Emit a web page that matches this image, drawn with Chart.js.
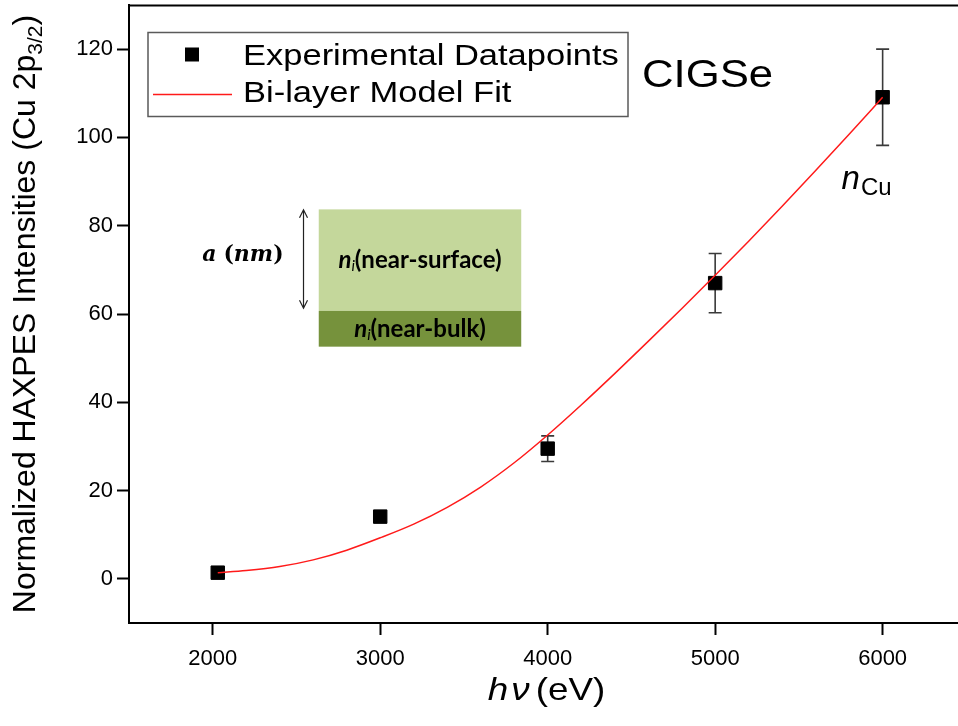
<!DOCTYPE html>
<html>
<head>
<meta charset="utf-8">
<script src="https://cdn.jsdelivr.net/npm/chart.js@4.4.0/dist/chart.umd.min.js"></script>
<style>
  html, body { margin: 0; padding: 0; background: #fff; overflow: hidden; }
  #wrap { width: 958px; height: 726px; }
</style>
</head>
<body>
<div id="wrap"><canvas id="c" width="958" height="726"></canvas></div>
<script>
// Measured Cu 2p3/2 HAXPES intensities vs. photon energy
const photonEnergy = [2030, 3000, 4000, 5000, 6000];
const intensity    = [1.4, 14.1, 29.5, 67.0, 109.1];
const intensityErr = [0, 0, 2.9, 6.7, 10.9];

// Bi-layer model fit curve
const fitEnergy    = [2030, 2200, 2400, 2600, 2800, 3000, 3200, 3400, 3600, 3800, 4000,
                      4200, 4400, 4600, 4800, 5000, 5200, 5400, 5600, 5800, 6000];
const fitIntensity = [1.4, 1.9, 2.8, 4.3, 6.5, 9.3, 12.4, 16.2, 20.8, 26.3, 32.6,
                      39.4, 46.5, 53.8, 61.2, 68.8, 76.5, 84.4, 92.5, 100.7, 109.1];

// Axis ticks
const xTickValues = [2000, 3000, 4000, 5000, 6000];
const yTickValues = [0, 20, 40, 60, 80, 100, 120];

const seriesLabels = ['Experimental Datapoints', 'Bi-layer Model Fit'];

const SANS = '"Liberation Sans", Arial, sans-serif';
const SX = 1.15; // horizontal stretch used for the annotation texts

function stretchedText(ctx, text, x, y, sx) {
  ctx.save();
  ctx.translate(x, y);
  ctx.scale(sx, 1);
  ctx.fillText(text, 0, 0);
  const w = ctx.measureText(text).width * sx;
  ctx.restore();
  return w;
}

// Vertical error bars, drawn underneath the square markers
const errorBars = {
  id: 'errorBars',
  beforeDatasetsDraw(chart) {
    const { ctx, scales: { x, y } } = chart;
    ctx.save();
    ctx.strokeStyle = '#3a3a3a';
    ctx.lineWidth = 1.6;
    photonEnergy.forEach((e, i) => {
      const d = intensityErr[i];
      if (!d) return;
      const px = x.getPixelForValue(e);
      const top = y.getPixelForValue(intensity[i] + d);
      const bot = y.getPixelForValue(intensity[i] - d);
      const cap = 6.5;
      ctx.beginPath();
      ctx.moveTo(px, top); ctx.lineTo(px, bot);
      ctx.moveTo(px - cap, top); ctx.lineTo(px + cap, top);
      ctx.moveTo(px - cap, bot); ctx.lineTo(px + cap, bot);
      ctx.stroke();
    });
    ctx.restore();
  }
};

// Frame, legend box, titles and the layer sketch
const decorations = {
  id: 'decorations',
  afterDraw(chart) {
    const { ctx, chartArea: ca, scales: { x, y } } = chart;
    ctx.save();

    // top frame line
    ctx.strokeStyle = '#000';
    ctx.lineWidth = 2;
    ctx.beginPath();
    ctx.moveTo(ca.left - 1, ca.top + 0.5);
    ctx.lineTo(ca.right, ca.top + 0.5);
    ctx.stroke();

    // legend box
    const lx = ca.left + 19, ly = ca.top + 27.5, lw = 480, lh = 84;
    ctx.fillStyle = '#fff';
    ctx.fillRect(lx, ly, lw, lh);
    ctx.strokeStyle = '#5a5a5a';
    ctx.lineWidth = 1.5;
    ctx.strokeRect(lx, ly, lw, lh);
    ctx.fillStyle = '#000';
    ctx.fillRect(lx + 37, ly + 15, 14, 14);
    ctx.strokeStyle = '#ff1a1a';
    ctx.lineWidth = 1.5;
    ctx.beginPath();
    ctx.moveTo(lx + 5, ly + 62); ctx.lineTo(lx + 84, ly + 62);
    ctx.stroke();
    ctx.fillStyle = '#000';
    ctx.font = '30px ' + SANS;
    ctx.textBaseline = 'alphabetic';
    ctx.textAlign = 'left';
    stretchedText(ctx, chart.data.datasets[1].label, lx + 95, ly + 32.5, SX);
    stretchedText(ctx, chart.data.datasets[0].label, lx + 95, ly + 69, SX);

    // sample label
    ctx.font = '38px ' + SANS;
    stretchedText(ctx, 'CIGSe', ca.left + 513, ca.top + 81.5, SX);

    // n_Cu label next to the highest point
    const nx = x.getPixelForValue(5755), ny = y.getPixelForValue(88.3);
    ctx.font = 'italic 33px ' + SANS;
    const wn = ctx.measureText('n').width;
    ctx.fillText('n', nx, ny);
    ctx.font = '24px ' + SANS;
    ctx.fillText('Cu', nx + wn + 1, ny + 6);

    // layer sketch: near-surface / near-bulk
    const rx0 = x.getPixelForValue(2633), rx1 = x.getPixelForValue(3842);
    const ry0 = y.getPixelForValue(83.7), ry1 = y.getPixelForValue(60.7), ry2 = y.getPixelForValue(52.6);
    ctx.fillStyle = '#c4d79b';
    ctx.fillRect(rx0, ry0, rx1 - rx0, ry1 - ry0);
    ctx.fillStyle = '#76923c';
    ctx.fillRect(rx0, ry1, rx1 - rx0, ry2 - ry1);

    function layerText(label, cx, cy) {
      ctx.fillStyle = '#000';
      ctx.textBaseline = 'middle';
      ctx.font = 'bold italic 24px Lato, ' + SANS;
      const w1 = ctx.measureText('n').width;
      ctx.font = 'italic 15px Lato, ' + SANS;
      const w2 = ctx.measureText('i').width;
      ctx.font = 'bold 24px Lato, ' + SANS;
      const w3 = ctx.measureText(label).width;
      let sx = cx - (w1 + w2 + w3) / 2;
      ctx.font = 'bold italic 24px Lato, ' + SANS;
      ctx.fillText('n', sx, cy);
      ctx.font = 'italic 15px Lato, ' + SANS;
      ctx.fillText('i', sx + w1, cy + 6);
      ctx.font = 'bold 24px Lato, ' + SANS;
      ctx.fillText(label, sx + w1 + w2, cy);
    }
    layerText('(near-surface)', (rx0 + rx1) / 2, (ry0 + ry1) / 2);
    layerText('(near-bulk)', (rx0 + rx1) / 2, (ry1 + ry2) / 2);

    // thickness arrow
    const ax = x.getPixelForValue(2542);
    const a0 = y.getPixelForValue(83.6), a1 = y.getPixelForValue(61.3);
    ctx.strokeStyle = '#222';
    ctx.lineWidth = 1.2;
    ctx.beginPath();
    ctx.moveTo(ax, a0); ctx.lineTo(ax, a1);
    ctx.moveTo(ax - 4, a0 + 8); ctx.lineTo(ax, a0); ctx.lineTo(ax + 4, a0 + 8);
    ctx.moveTo(ax - 4, a1 - 8); ctx.lineTo(ax, a1); ctx.lineTo(ax + 4, a1 - 8);
    ctx.stroke();

    // a (nm)
    ctx.textBaseline = 'alphabetic';
    ctx.textAlign = 'left';
    const tx = x.getPixelForValue(2180), ty = y.getPixelForValue(72);
    ctx.font = 'bold italic 22px "DejaVu Serif", serif';
    const wa = ctx.measureText('a').width;
    ctx.font = 'bold 22px "DejaVu Serif", serif';
    const wp = ctx.measureText('(').width;
    ctx.font = 'bold italic 22px "DejaVu Serif", serif';
    const wnm = ctx.measureText('nm').width;
    const total = wa + 7 + wp + wnm + wp;
    let px = tx - total / 2;
    ctx.font = 'bold italic 22px "DejaVu Serif", serif';
    ctx.fillText('a', px, ty); px += wa + 7;
    ctx.font = 'bold 22px "DejaVu Serif", serif';
    ctx.fillText('(', px, ty); px += wp;
    ctx.font = 'bold italic 22px "DejaVu Serif", serif';
    ctx.fillText('nm', px, ty); px += wnm;
    ctx.font = 'bold 22px "DejaVu Serif", serif';
    ctx.fillText(')', px, ty);

    // y-axis title with subscript
    ctx.save();
    ctx.translate(35, (ca.top + ca.bottom) / 2);
    ctx.rotate(-Math.PI / 2);
    const mainT = 'Normalized HAXPES Intensities (Cu 2p';
    ctx.font = '32px ' + SANS;
    const m1 = ctx.measureText(mainT).width;
    const m3 = ctx.measureText(')').width;
    ctx.font = '21px ' + SANS;
    const m2 = ctx.measureText('3/2').width;
    let s = -(m1 + m2 + m3) / 2;
    ctx.fillStyle = '#000';
    ctx.font = '32px ' + SANS;
    ctx.fillText(mainT, s, 0);
    ctx.font = '21px ' + SANS;
    ctx.fillText('3/2', s + m1, 7);
    ctx.font = '32px ' + SANS;
    ctx.fillText(')', s + m1 + m2, 0);
    ctx.restore();

    // x-axis title: h nu (eV)
    ctx.font = 'italic 32px ' + SANS;
    const wh = ctx.measureText('h').width * SX;
    const wnu = ctx.measureText('\u03BD').width * SX;
    ctx.font = '32px ' + SANS;
    const wev = ctx.measureText('(eV)').width * SX;
    const gap = 6;
    const cx = (ca.left + ca.right) / 2 + 3;
    let xx = cx - (wh + 3 + wnu + gap + wev) / 2;
    const by = 700;
    ctx.font = 'italic 32px ' + SANS;
    stretchedText(ctx, 'h', xx, by, SX); xx += wh + 3;
    stretchedText(ctx, '\u03BD', xx, by, SX); xx += wnu + gap;
    ctx.font = '32px ' + SANS;
    stretchedText(ctx, '(eV)', xx, by, SX);

    ctx.restore();
  }
};

const ctx = document.getElementById('c').getContext('2d');
new Chart(ctx, {
  type: 'scatter',
  data: {
    datasets: [
      {
        type: 'line',
        label: seriesLabels[1],
        data: fitEnergy.map((e, i) => ({ x: e, y: fitIntensity[i] })),
        borderColor: '#ff1a1a',
        borderWidth: 1.5,
        pointRadius: 0,
        fill: false,
        cubicInterpolationMode: 'monotone',
        order: 0
      },
      {
        type: 'scatter',
        label: seriesLabels[0],
        data: photonEnergy.map((e, i) => ({ x: e, y: intensity[i] })),
        pointStyle: 'rect',
        pointRadius: 9.5,
        backgroundColor: '#000',
        borderColor: '#000',
        borderWidth: 1,
        order: 1
      }
    ]
  },
  options: {
    responsive: false,
    animation: false,
    devicePixelRatio: 1,
    layout: { autoPadding: false, padding: { top: 5, right: 0, left: 0, bottom: 0 } },
    plugins: {
      legend: { display: false },
      tooltip: { enabled: false },
      title: { display: false }
    },
    scales: {
      x: {
        type: 'linear',
        min: 1500,
        max: 6450,
        afterBuildTicks: s => { s.ticks = xTickValues.map(v => ({ value: v })); },
        afterFit: s => { s.height = 103; s.paddingLeft = 0; s.paddingRight = 0; },
        ticks: { color: '#000', font: { family: SANS, size: 22 }, padding: 11, autoSkip: false, maxRotation: 0,
                 callback: v => String(v) },
        grid: { display: true, drawOnChartArea: false, drawTicks: true, tickLength: 12, tickWidth: 2, tickColor: '#000' },
        border: { display: true, color: '#000', width: 2 }
      },
      y: {
        type: 'linear',
        min: -10,
        max: 130,
        afterBuildTicks: s => { s.ticks = yTickValues.map(v => ({ value: v })); },
        afterFit: s => { s.width = 129; s.paddingTop = 0; s.paddingBottom = 0; },
        ticks: { color: '#000', font: { family: SANS, size: 22 }, padding: 4, autoSkip: false,
                 callback: v => String(v) },
        grid: { display: true, drawOnChartArea: false, drawTicks: true, tickLength: 12, tickWidth: 2, tickColor: '#000' },
        border: { display: true, color: '#000', width: 2 }
      }
    }
  },
  plugins: [errorBars, decorations]
});
</script>
</body>
</html>
